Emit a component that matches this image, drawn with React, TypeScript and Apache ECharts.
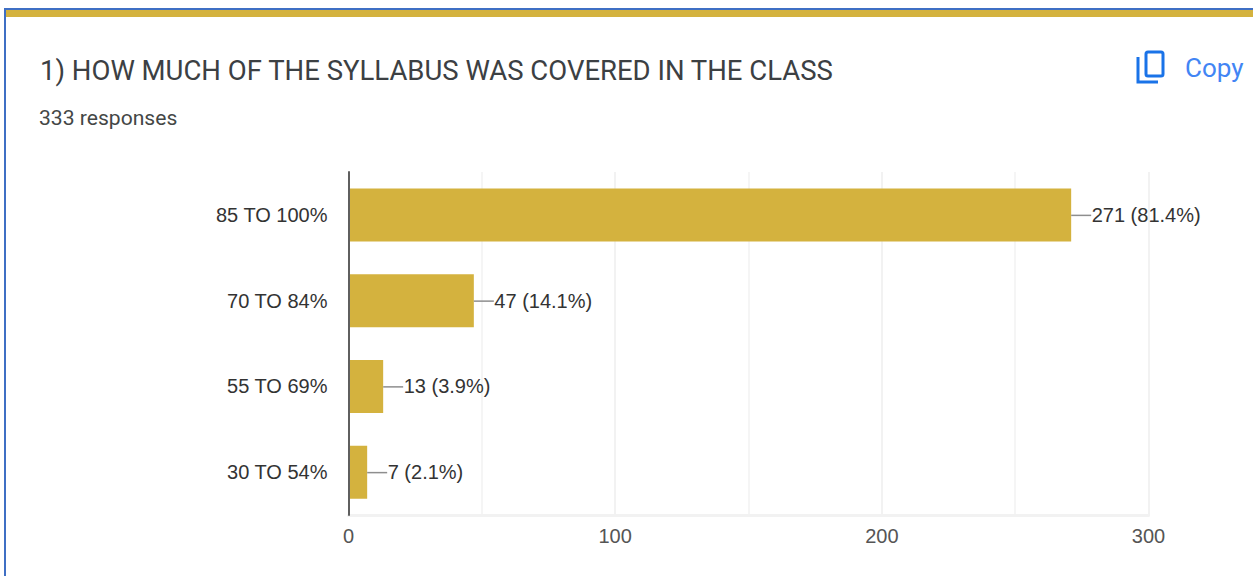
import React, { useEffect, useRef } from "react";
import * as echarts from "echarts";

const categories = ["85 TO 100%", "70 TO 84%", "55 TO 69%", "30 TO 54%"];
const counts = [271, 47, 13, 7];
const shares = ["81.4%", "14.1%", "3.9%", "2.1%"];
const xTicks = [0, 300];
const titleText = "1) HOW MUCH OF THE SYLLABUS WAS COVERED IN THE CLASS";
const responsesText = "333 responses";
const copyText = "Copy";

const GOLD = "#d4b23e";
const BLUE = "#1a73e8";

export default function App() {
  const ref = useRef<HTMLDivElement>(null);
  useEffect(() => {
    const chart = echarts.init(ref.current!, null, { renderer: "svg" });
    chart.setOption({
      animation: false,
      backgroundColor: "#ffffff",
      grid: { left: 348.5, right: 104.5, top: 172, bottom: 61, containLabel: false },
      xAxis: {
        type: "value",
        min: xTicks[0],
        max: xTicks[1],
        interval: 100,
        axisLine: { show: true, lineStyle: { color: "#f2f2f2", width: 3 } },
        axisTick: { show: false },
        minorTick: { show: false, splitNumber: 2 },
        minorSplitLine: { show: true, lineStyle: { color: "#f5f5f5", width: 2 } },
        splitLine: { show: true, lineStyle: { color: "#f2f2f2", width: 2 } },
        axisLabel: { color: "#555555", fontFamily: "Liberation Sans", fontSize: 20, margin: 11 },
      },
      yAxis: {
        type: "category",
        inverse: true,
        data: categories,
        z: 10,
        axisLine: { show: true, onZero: false, lineStyle: { color: "#5f5f5f", width: 2 } },
        axisTick: { show: false },
        splitLine: { show: false },
        axisLabel: { color: "#333333", fontFamily: "Liberation Sans", fontSize: 20, margin: 21 },
      },
      series: [
        {
          type: "bar",
          data: counts,
          barWidth: 53,
          z: 3,
          itemStyle: { color: GOLD },
        },
        {
          type: "custom",
          data: counts.map((v, i) => [v, i]),
          encode: { x: 0, y: 1 },
          z: 4,
          silent: true,
          renderItem: (params: any, api: any) => {
            const v = api.value(0);
            const i = api.value(1);
            const [x, y] = api.coord([v, i]);
            return {
              type: "group",
              children: [
                {
                  type: "line",
                  shape: { x1: x, y1: y + 0.5, x2: x + 20, y2: y + 0.5 },
                  style: { stroke: "#8e8e8e", lineWidth: 1.5 },
                },
                {
                  type: "text",
                  x: x + 20.5,
                  y,
                  style: {
                    text: `${counts[i]} (${shares[i]})`,
                    fill: "#333333",
                    font: '20px "Liberation Sans"',
                    textAlign: "left",
                    textVerticalAlign: "middle",
                  },
                },
              ],
            };
          },
        },
      ],
      graphic: [
        { type: "rect", shape: { x: 4, y: 8, width: 1249, height: 2 }, style: { fill: "#3f6fc4" }, silent: true },
        { type: "rect", shape: { x: 4, y: 8, width: 2, height: 568 }, style: { fill: "#3f6fc4" }, silent: true },
        { type: "rect", shape: { x: 6, y: 10, width: 1247, height: 7 }, style: { fill: GOLD }, silent: true },
        {
          type: "text", x: 40, y: 70,
          style: { text: titleText, fill: "#3c4043", font: '27.5px Roboto', textVerticalAlign: "middle" },
        },
        {
          type: "text", x: 39, y: 117.5,
          style: { text: responsesText, fill: "#444746", font: '21.1px Roboto', textVerticalAlign: "middle" },
        },
        {
          type: "rect",
          shape: { x: 1146, y: 52, width: 17, height: 24, r: 2 },
          style: { fill: "none", stroke: BLUE, lineWidth: 3 },
        },
        {
          type: "polyline",
          shape: { points: [[1138, 57], [1138, 82], [1158, 82]] },
          style: { fill: "none", stroke: BLUE, lineWidth: 3 },
        },
        {
          type: "text", x: 1185, y: 68,
          style: { text: copyText, fill: "#4285f4", font: '400 26px Roboto', textVerticalAlign: "middle" },
        },
      ],
    });
    return () => chart.dispose();
  }, []);
  return (
    <div
      ref={ref}
      style={{ position: "absolute", left: 0, top: 0, width: 1253, height: 576, background: "#fff" }}
    />
  );
}
